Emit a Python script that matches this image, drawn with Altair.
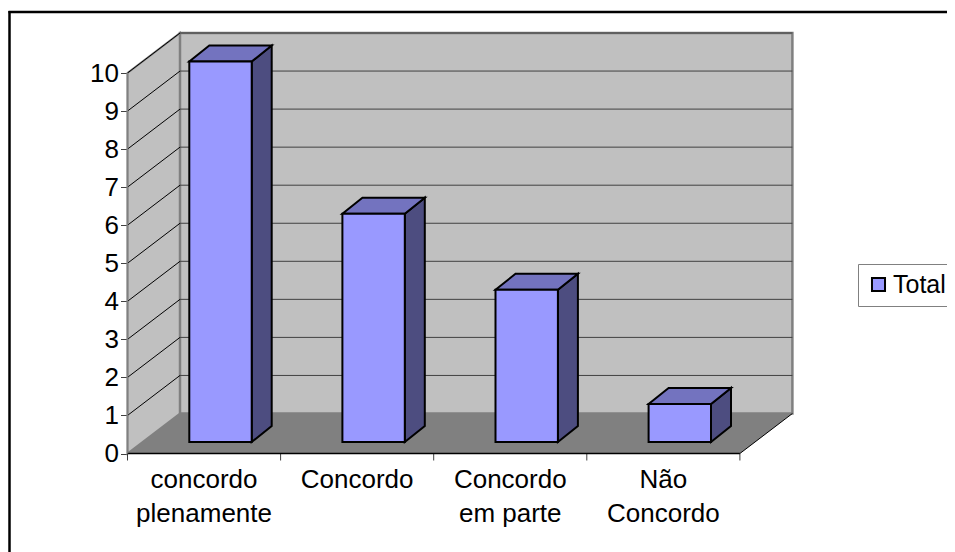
import altair as alt
import pandas as pd

categories = ["concordo\nplenamente", "Concordo", "Concordo\nem parte", "Não\nConcordo"]
values = [10, 6, 4, 1]
series_name = "Total"
y_ticks = list(range(0, 11))
x_ticks = [0, 1, 2, 3, 4]

FONT = "Liberation Sans"
FS = 26
W, H = 939, 544
X0, CW = 119.5, 153.1          # px of category 0, px per category
Y0, UH = 445.5, 38.05          # px of value 0, px per unit
DC, DV = 52.5 / CW, 40 / UH    # full depth of the floor
BC, BV = 15 / CW, 11.5 / UH    # bar front offset into the depth
SC, SV = 20 / CW, 16 / UH      # bar depth
GAP, BW = 46.8 / CW, 62.4 / CW # bar gap and width
VMAX = 10
NCAT = len(categories)

xs = alt.Scale(domain=[-X0 / CW, (W - X0) / CW], nice=False, zero=False)
ys = alt.Scale(domain=[(Y0 - H) / UH, Y0 / UH], nice=False, zero=False)
y_axis_def = alt.Axis(values=y_ticks, title=None, grid=False, domain=False,
                      offset=-X0, tickSize=7, tickColor="#404040", tickWidth=1,
                      labelFont=FONT, labelFontSize=FS, labelColor="#000000",
                      labelPadding=2, format="d")


def X(f="x", **k):
    return alt.X(f + ":Q", scale=xs, axis=None, **k)


def Y(f="y", **k):
    return alt.Y(f + ":Q", scale=ys, axis=y_axis_def, stack=None, **k)


# walls and floor -----------------------------------------------------
left_wall = pd.DataFrame({"x": [0, DC], "y": [0, DV], "y2": [VMAX, VMAX + DV]})
l_wall = alt.Chart(left_wall).mark_area(fill="#C0C0C0", stroke="#808080", strokeWidth=2).encode(
    x=X(), y=Y(), y2="y2:Q")

back = pd.DataFrame({"x": [DC], "x2": [NCAT + DC], "y": [DV], "y2": [VMAX + DV]})
b_wall = alt.Chart(back).mark_rect(fill="#C0C0C0", stroke="#808080", strokeWidth=2.5).encode(
    x=X(), x2="x2:Q", y=Y(), y2="y2:Q")

floor = pd.DataFrame({"y": [0, DV], "x": [0, DC], "x2": [NCAT, NCAT + DC]})
floor_l = alt.Chart(floor).mark_area(orient="horizontal", fill="#808080").encode(
    y=Y(), x=X(), x2="x2:Q")

grid = pd.DataFrame({"v": y_ticks[1:]})
grid["y"] = grid.v + DV
grid["x"] = DC
grid["x2"] = NCAT + DC
grid_back = alt.Chart(grid).mark_rule(color="#404040", strokeWidth=1).encode(
    x=X(), x2="x2:Q", y=Y())

diag = pd.DataFrame({"v": y_ticks[1:]})
diag_long = pd.concat([diag.assign(x=0.0, y=diag.v), diag.assign(x=DC, y=diag.v + DV)])
grid_left = alt.Chart(diag_long).mark_line(color="#000000", strokeWidth=1).encode(
    x=X(), y=Y(), detail="v:N")

floor_edge_df = pd.DataFrame({"x": [NCAT, NCAT + DC], "y": [0, DV]})
floor_edge = alt.Chart(floor_edge_df).mark_line(color="#000000", strokeWidth=1).encode(x=X(), y=Y())

axis_x = pd.DataFrame({"x": [0.0], "x2": [float(NCAT)], "y": [0.0]})
x_line = alt.Chart(axis_x).mark_rule(color="#000000", strokeWidth=1.5).encode(x=X(), x2="x2:Q", y=Y())
axis_y = pd.DataFrame({"x": [0.0], "y": [0.0], "y2": [float(VMAX)]})
y_line = alt.Chart(axis_y).mark_rule(color="#808080", strokeWidth=1.5).encode(x=X(), y=Y(), y2="y2:Q")

# bars ----------------------------------------------------------------
bars = pd.DataFrame({"cat": categories, "v": values})
bars["series"] = series_name
bars["i"] = range(NCAT)
bars["left"] = bars.i + BC + GAP
bars["right"] = bars.left + BW
bars["bot"] = BV
bars["top"] = bars.v + BV

STROKE = dict(stroke="#000000", strokeWidth=2)

side = pd.concat([
    bars.assign(x=bars.right, y=bars.bot, y2=bars.top),
    bars.assign(x=bars.right + SC, y=bars.bot + SV, y2=bars.top + SV),
])
side_l = alt.Chart(side).mark_area(fill="#4D4D80", **STROKE).encode(
    x=X(), y=Y(), y2="y2:Q", detail="i:N")

top = pd.concat([
    bars.assign(y=bars.top, x=bars.left, x2=bars.right),
    bars.assign(y=bars.top + SV, x=bars.left + SC, x2=bars.right + SC),
])
top_l = alt.Chart(top).mark_area(orient="horizontal", fill="#7373BF", **STROKE).encode(
    y=Y(), x=X(), x2="x2:Q", detail="i:N")

front = alt.Chart(bars).mark_rect(**STROKE).encode(
    x=X("left"), x2="right:Q", y=Y("bot"), y2="top:Q",
    color=alt.Color("series:N",
                    scale=alt.Scale(domain=[series_name], range=["#9999FF"]),
                    legend=alt.Legend(orient="none", legendX=850, legendY=256, title=None,
                                      symbolType="square", symbolSize=170, symbolStrokeColor="#000000",
                                      symbolStrokeWidth=2, symbolFillColor="#9999FF",
                                      labelFont=FONT, labelFontSize=25, labelColor="#000000",
                                      labelOffset=2,
                                      strokeColor="#808080", fillColor="#FFFFFF", padding=8)))

# axes ----------------------------------------------------------------
xt_df = pd.DataFrame({"x": x_ticks})
xt_long = pd.concat([xt_df.assign(y=0.0), xt_df.assign(y=-7 / UH)])
x_ticks_l = alt.Chart(xt_long).mark_line(color="#404040", strokeWidth=1).encode(
    x=X(), y=Y(), detail="x:N")

lab = pd.DataFrame({"x": [i + 0.5 for i in range(NCAT)], "cat": categories})
lab["y"] = -(480 - Y0) / UH
x_labels = alt.Chart(lab).mark_text(font=FONT, fontSize=FS, color="#000000", lineBreak="\n",
                                    lineHeight=33.5, align="center", baseline="alphabetic").encode(
    x=X(), y=Y(), text="cat:N")

# frame ---------------------------------------------------------------
frame_left = alt.Chart(pd.DataFrame({"a": [0]})).mark_rule(color="#000000", strokeWidth=2.5).encode(
    x=alt.value(1.5), y=alt.value(3), y2=alt.value(H))
frame_top = alt.Chart(pd.DataFrame({"a": [0]})).mark_rule(color="#000000", strokeWidth=2.5).encode(
    y=alt.value(4), x=alt.value(0.5), x2=alt.value(W))

chart = alt.layer(
    l_wall, b_wall, floor_l, grid_back, grid_left, floor_edge,
    x_ticks_l, x_line, y_line, side_l, top_l, front, x_labels, frame_left, frame_top,
).resolve_scale(x="shared", y="shared").properties(
    width=W, height=H, padding=0, autosize=alt.AutoSizeParams(type="none"), background="#FFFFFF"
).configure_view(stroke=None)

chart.save("out.html", embed_options={"renderer": "svg", "actions": False})
